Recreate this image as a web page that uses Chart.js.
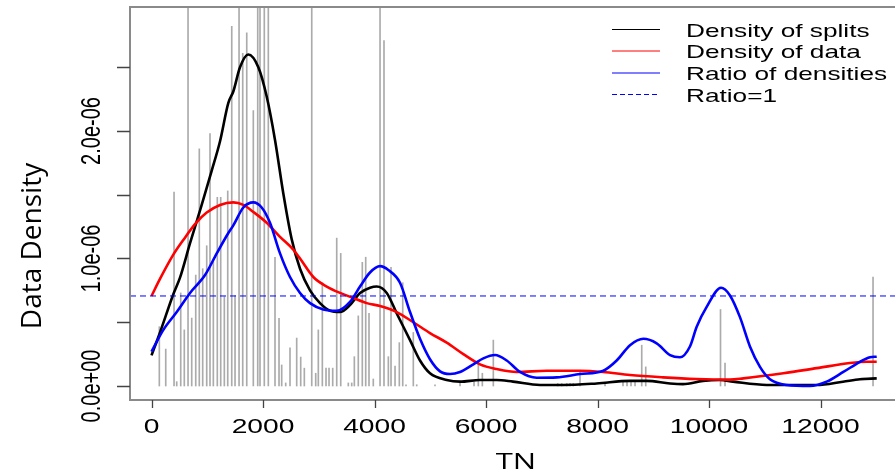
<!DOCTYPE html>
<html>
<head>
<meta charset="utf-8">
<script src="https://cdn.jsdelivr.net/npm/chart.js@4.4.1/dist/chart.umd.min.js"></script>
<style>
  html, body { margin: 0; padding: 0; background: #fff; overflow: hidden; }
  #wrap { width: 895px; height: 471px; }
</style>
</head>
<body>
<div id="wrap"><canvas id="chart" width="895" height="471"></canvas></div>
<script>
// values are in units of 1e-6
const X_TICKS = [0, 2000, 4000, 6000, 8000, 10000, 12000]
const Y_TICKS = [0, 0.5, 1, 1.5, 2, 2.5]
const Y_LABELS = { 0: '0.0e+00', 1: '1.0e-06', 2: '2.0e-06' }
const RATIO_ONE = 0.706

// gray spikes (split locations)
const SPIKE_X = [140, 255, 404, 452, 524, 588, 655, 721, 793, 857, 918, 990, 1049, 1109, 1180, 1241, 1306, 1367,
  1439, 1498, 1570, 1636, 1708, 1826, 1905, 1946, 2023, 2095, 2215, 2287, 2335, 2407, 2484, 2604, 2676, 2741,
  2874, 2945, 2992, 3064, 3130, 3184, 3250, 3322, 3394, 3530, 3591, 3638, 3709, 3781, 3842, 3901, 3978, 4099,
  4170, 4248, 4296, 4368, 4445, 4506, 4565, 4696, 4757, 5085, 5534, 5785, 5862, 5934, 6131, 7286, 7358, 7448,
  7507, 7566, 7686, 8135, 8457, 8529, 8601, 8673, 8793, 8865, 10206, 10287, 12942]
const SPIKE_H = [0.465, 0.29, 1.52, 0.034, 0.73, 0.44, 3.2, 0.533, 0.87, 1.86, 0.92, 1.1, 1.98, 0.99, 1.48, 1.48, 0.7, 1.53,
  2.82, 0.71, 3.2, 2.61, 2.77, 2.16, 3.2, 3.2, 3.2, 3.2, 1.01, 0.53, 0.165, 0.024, 0.3, 0.376, 0.227, 0.14,
  3.2, 0.10, 0.44, 0.81, 0.14, 0.14, 0.14, 1.16, 1.04, 0.024, 0.024, 0.23, 0.55, 0.97, 1.01, 0.57, 0.055, 3.2,
  2.71, 0.23, 0.93, 0.157, 0.34, 0.81, 0.01, 0.42, 0.01, 0.01, 0.02, 0.03, 0.2, 0.1, 0.36, 0.02, 0.02, 0.02,
  0.02, 0.02, 0.11, 0.03, 0.04, 0.04, 0.04, 0.04, 0.32, 0.15, 0.6, 0.18, 0.855]

const SPLITS_X = [0, 152, 391, 511, 691, 900, 1080, 1229, 1378, 1467, 1587, 1736, 1916, 2066, 2215, 2364, 2515, 2664,
  2843, 3022, 3202, 3381, 3560, 3740, 3919, 4039, 4219, 4398, 4637, 4816, 4995, 5295, 5534, 5892, 6192, 6484,
  6969, 7381, 7985, 8583, 8882, 9300, 9533, 9892, 10197, 10430, 11035, 11932, 12403, 12709, 13008]
const SPLITS_Y = [0.24, 0.42, 0.72, 0.85, 1.12, 1.42, 1.69, 1.92, 2.22, 2.31, 2.50, 2.60, 2.50, 2.27, 1.93, 1.51, 1.15, 0.92,
  0.75, 0.65, 0.59, 0.58, 0.635, 0.73, 0.77, 0.78, 0.73, 0.57, 0.36, 0.2, 0.1, 0.047, 0.034, 0.047, 0.047, 0.034,
  0.008, 0.008, 0.02, 0.04, 0.04, 0.02, 0.015, 0.04, 0.047, 0.034, 0.008, 0.008, 0.034, 0.053, 0.06]

const DATA_X = [0, 152, 391, 570, 780, 990, 1229, 1467, 1647, 1826, 2066, 2305, 2543, 2664, 2902, 3143, 3381, 3620,
  3860, 4099, 4398, 4696, 4995, 5295, 5593, 5892, 6192, 6551, 7089, 7686, 8099, 8583, 9175, 9779, 10376, 10615,
  11333, 11932, 12529, 12829, 13008]
const DATA_Y = [0.706, 0.84, 1.03, 1.145, 1.27, 1.36, 1.42, 1.44, 1.42, 1.365, 1.28, 1.17, 1.07, 1.0, 0.855, 0.78, 0.73, 0.69,
  0.65, 0.627, 0.58, 0.50, 0.415, 0.34, 0.25, 0.17, 0.133, 0.11, 0.12, 0.12, 0.11, 0.086, 0.068, 0.055, 0.05, 0.06,
  0.10, 0.14, 0.18, 0.19, 0.19]

const RATIO_X = [0, 212, 452, 691, 960, 1170, 1378, 1467, 1647, 1826, 1976, 2125, 2305, 2484, 2664, 2843, 3082, 3322,
  3560, 3740, 3919, 4099, 4248, 4457, 4637, 4816, 4995, 5175, 5355, 5534, 5773, 5952, 6162, 6371, 6610, 6909,
  7268, 7686, 8104, 8344, 8583, 8822, 9061, 9300, 9479, 9658, 9779, 9958, 10215, 10376, 10555, 10734, 10914,
  11093, 11392, 11811, 12110, 12409, 12709, 12888, 13008]
const RATIO_Y = [0.27, 0.44, 0.58, 0.73, 0.87, 1.04, 1.2, 1.26, 1.40, 1.44, 1.40, 1.28, 1.04, 0.855, 0.73, 0.65, 0.60, 0.59,
  0.66, 0.78, 0.89, 0.94, 0.91, 0.81, 0.58, 0.37, 0.21, 0.115, 0.094, 0.11, 0.17, 0.217, 0.243, 0.20, 0.11, 0.065,
  0.068, 0.094, 0.12, 0.20, 0.32, 0.37, 0.335, 0.243, 0.225, 0.31, 0.465, 0.62, 0.77, 0.71, 0.54, 0.31, 0.15,
  0.053, 0.008, 0, 0.034, 0.11, 0.19, 0.225, 0.23]

const X_MIN = -386
const X_MAX = 13336
const Y_MIN = -0.1098
const Y_MAX = 2.9725
const E6 = 1e-6
const STRETCH = 1.41

const toPoints = (xs, ys) => xs.map((x, i) => ({ x, y: ys[i] * E6 }))

function curve(label, xs, ys, color, order) {
  return {
    type: 'line',
    label,
    data: toPoints(xs, ys),
    borderColor: color,
    borderWidth: 2.6,
    pointRadius: 0,
    cubicInterpolationMode: 'monotone',
    fill: false,
    order,
  }
}

function stretchedText(ctx, text, x, y, font, align, rotate) {
  ctx.save()
  ctx.translate(x, y)
  ctx.scale(STRETCH, 1)
  if (rotate) ctx.rotate(-Math.PI / 2)
  ctx.font = font
  ctx.textAlign = align
  ctx.textBaseline = 'alphabetic'
  ctx.fillStyle = '#000'
  ctx.fillText(text, 0, 0)
  ctx.restore()
}

const framePlugin = {
  id: 'frame',
  afterDraw(chart) {
    const { ctx, chartArea: a } = chart
    const xs = chart.scales.x
    const ys = chart.scales.y
    ctx.save()
    // box (right side runs off the picture)
    ctx.strokeStyle = '#8a8a8a'
    ctx.lineWidth = 2
    ctx.beginPath()
    ctx.moveTo(a.right + 2, a.top)
    ctx.lineTo(a.left, a.top)
    ctx.lineTo(a.left, a.bottom)
    ctx.lineTo(a.right + 2, a.bottom)
    ctx.stroke()

    // tick marks
    ctx.strokeStyle = '#444'
    ctx.lineWidth = 1.3
    ctx.beginPath()
    X_TICKS.forEach((t) => {
      const px = Math.round(xs.getPixelForValue(t)) + 0.5
      ctx.moveTo(px, a.bottom)
      ctx.lineTo(px, a.bottom + 8)
    })
    Y_TICKS.forEach((t) => {
      const py = Math.round(ys.getPixelForValue(t * E6)) + 0.5
      ctx.moveTo(a.left, py)
      ctx.lineTo(a.left - 13, py)
    })
    ctx.stroke()
    ctx.restore()

    // tick labels
    X_TICKS.forEach((t) => {
      stretchedText(ctx, String(t), xs.getPixelForValue(t), 432.5, '20px "Liberation Sans"', 'center', false)
    })
    Y_TICKS.forEach((t) => {
      if (!Y_LABELS[t]) return
      stretchedText(ctx, Y_LABELS[t], 100, ys.getPixelForValue(t * E6), '20px "Liberation Sans"', 'center', true)
    })

    // axis titles
    stretchedText(ctx, 'TN', 516, 469, '22px "Open Sans"', 'center', false)
    ctx.save()
    ctx.translate(41, 246)
    ctx.rotate(-Math.PI / 2)
    ctx.font = '28px "Open Sans"'
    ctx.textAlign = 'center'
    ctx.textBaseline = 'alphabetic'
    ctx.fillStyle = '#000'
    ctx.fillText('Data Density', 0, 0)
    ctx.restore()

    // legend
    const items = [
      { label: 'Density of splits', color: '#000000', dash: [] },
      { label: 'Density of data', color: '#ff0000', dash: [] },
      { label: 'Ratio of densities', color: '#0000ff', dash: [] },
      { label: 'Ratio=1', color: '#0000ff', dash: [5, 3] },
    ]
    const rowY = [29.5, 51, 73, 94.5]
    items.forEach((it, i) => {
      ctx.save()
      ctx.strokeStyle = it.color
      ctx.lineWidth = 1
      ctx.setLineDash(it.dash)
      ctx.beginPath()
      ctx.moveTo(612, rowY[i])
      ctx.lineTo(660, rowY[i])
      ctx.stroke()
      ctx.restore()
      stretchedText(ctx, it.label, 686, rowY[i] + 7.2, '18.6px "Liberation Sans"', 'left', false)
    })
  },
}

new Chart(document.getElementById('chart'), {
  type: 'line',
  data: {
    datasets: [
      {
        type: 'line',
        label: 'Ratio=1',
        data: [{ x: X_MIN, y: RATIO_ONE * E6 }, { x: X_MAX, y: RATIO_ONE * E6 }],
        borderColor: '#0000ff',
        borderWidth: 1,
        borderDash: [6, 4],
        pointRadius: 0,
        order: 0,
      },
      curve('Ratio of densities', RATIO_X, RATIO_Y, '#0000ff', 1),
      curve('Density of data', DATA_X, DATA_Y, '#ff0000', 2),
      curve('Density of splits', SPLITS_X, SPLITS_Y, '#000000', 3),
      {
        type: 'bar',
        label: 'splits',
        data: toPoints(SPIKE_X, SPIKE_H),
        backgroundColor: '#ababab',
        borderWidth: 0,
        barThickness: 1,
        grouped: false,
        order: 4,
      },
    ],
  },
  options: {
    responsive: false,
    animation: false,
    devicePixelRatio: 1,
    layout: { padding: { left: 130, top: 7, right: 0, bottom: 71 } },
    plugins: { legend: { display: false }, tooltip: { enabled: false } },
    scales: {
      x: { type: 'linear', min: X_MIN, max: X_MAX, offset: false, display: false },
      y: { type: 'linear', min: Y_MIN * E6, max: Y_MAX * E6, display: false },
    },
  },
  plugins: [framePlugin],
})
</script>
</body>
</html>
